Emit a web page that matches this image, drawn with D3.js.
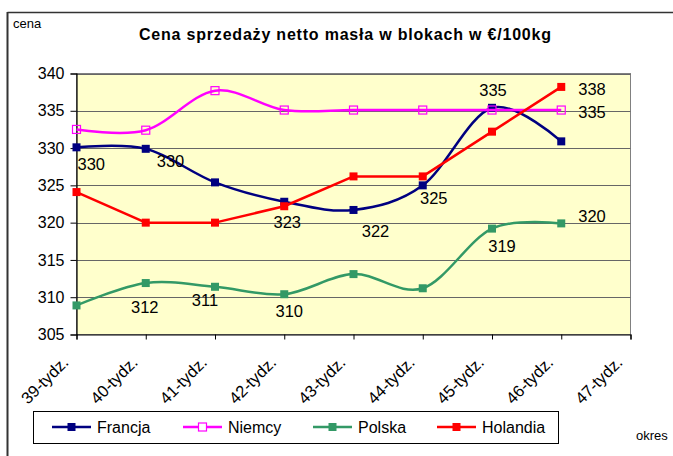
<!DOCTYPE html>
<html><head><meta charset="utf-8">
<script src="https://cdn.jsdelivr.net/npm/d3@7/dist/d3.min.js"></script>
<style>
html,body{margin:0;padding:0;background:#fff;}
svg{display:block;font-family:"Liberation Sans",Arial,sans-serif;}
</style></head>
<body>
<svg id="chart" width="673" height="456"></svg>
<script>
const categories = ["39-tydz.","40-tydz.","41-tydz.","42-tydz.","43-tydz.","44-tydz.","45-tydz.","46-tydz.","47-tydz."];
const francja  = [330.1, 329.9, 325.4, 322.8, 321.7, 325.0, 335.4, 330.9];
const niemcy   = [332.5, 332.4, 337.7, 335.1, 335.1, 335.1, 335.1, 335.1];
const polska   = [308.9, 311.9, 311.4, 310.4, 313.1, 311.2, 319.2, 319.9];
const holandia = [324.1, 320.0, 320.0, 322.2, 326.2, 326.2, 332.2, 338.2];
const seriesNames = ["Francja","Niemcy","Polska","Holandia"];
const yTicks = [305,310,315,320,325,330,335,340];
const titleText = "Cena sprzedaży netto masła w blokach w €/100kg";
const yTitle = "cena";
const xTitle = "okres";

// styling / layout (kept separate from data)
const styles = [
  {color:"#000080", smooth:true,  hollow:false},
  {color:"#FF00FF", smooth:true,  hollow:true},
  {color:"#339966", smooth:true,  hollow:false},
  {color:"#FF0000", smooth:false, hollow:false}
];
// data label placements: series index, point index, offset
const labelPlacement = [
  {s:0,i:0,dx:1,dy:23,anchor:"start"},
  {s:0,i:1,dx:11,dy:18,anchor:"start"},
  {s:0,i:3,dx:3,dy:26,anchor:"middle"},
  {s:0,i:4,dx:22,dy:27,anchor:"middle"},
  {s:0,i:5,dx:11,dy:19,anchor:"middle"},
  {s:0,i:6,dx:1,dy:-12,anchor:"middle"},
  {s:1,i:7,dx:17,dy:8,anchor:"start"},
  {s:2,i:1,dx:-1,dy:30,anchor:"middle"},
  {s:2,i:2,dx:-10,dy:19,anchor:"middle"},
  {s:2,i:3,dx:5,dy:23,anchor:"middle"},
  {s:2,i:6,dx:10,dy:23,anchor:"middle"},
  {s:2,i:7,dx:17,dy:-1,anchor:"start"},
  {s:3,i:7,dx:17,dy:8,anchor:"start"}
];

const allSeries = [francja, niemcy, polska, holandia];
const svg = d3.select("#chart");

// outer frame
svg.append("line").attr("x1",7.5).attr("y1",12.5).attr("x2",673).attr("y2",12.5).attr("stroke","#333").attr("stroke-width",1.5);
svg.append("line").attr("x1",7.5).attr("y1",12).attr("x2",7.5).attr("y2",456).attr("stroke","#333").attr("stroke-width",2);

const plot = {left:76.5, right:630.5, top:73.5, bottom:334.5};
const x = d3.scalePoint().domain(categories).range([plot.left, plot.right]);
const y = d3.scaleLinear().domain([305,340]).range([plot.bottom, plot.top]);

// background
svg.append("rect").attr("x",plot.left).attr("y",plot.top)
  .attr("width",plot.right-plot.left).attr("height",plot.bottom-plot.top)
  .attr("fill","#FFFFCC").attr("stroke","#808080").attr("stroke-width",1);

// gridlines
svg.append("g").selectAll("line").data(yTicks.filter(t=>t>305)).join("line")
  .attr("x1",plot.left).attr("x2",plot.right)
  .attr("y1",d=>Math.round(y(d))+0.5).attr("y2",d=>Math.round(y(d))+0.5)
  .attr("stroke","#666").attr("stroke-width",1);

// axes
const yAxis = d3.axisLeft(y).tickValues(yTicks).tickSize(6).tickPadding(6).tickFormat(d3.format("d"));
const gy = svg.append("g").attr("transform",`translate(${plot.left},0)`).call(yAxis);
gy.select(".domain").attr("stroke","#000").attr("stroke-width",1.2);
gy.selectAll(".tick line").attr("stroke","#000");
gy.selectAll("text").attr("font-size",16).attr("fill","#000").attr("font-family","Liberation Sans, Arial, sans-serif");

const xAxis = d3.axisBottom(x).tickSize(5).tickFormat("");
const gx = svg.append("g").attr("transform",`translate(0,${plot.bottom})`).call(xAxis);
gx.select(".domain").attr("stroke","#000").attr("stroke-width",1.2);
gx.selectAll(".tick line").attr("stroke","#000");

svg.append("g").selectAll("text").data(categories).join("text")
  .attr("transform",d=>`translate(${x(d)-7},${plot.bottom+29}) rotate(-45)`)
  .attr("text-anchor","end").attr("font-size",16.5).attr("fill","#000")
  .text(d=>d);

// lines and markers
allSeries.forEach((vals,si)=>{
  const st = styles[si];
  const pts = vals.map((v,i)=>[x(categories[i]), y(v)]);
  const line = d3.line().curve(st.smooth ? d3.curveCatmullRom.alpha(0) : d3.curveLinear);
  svg.append("path").attr("d",line(pts)).attr("fill","none")
    .attr("stroke",st.color).attr("stroke-width",2.5).attr("stroke-linejoin","round");
  svg.append("g").selectAll("rect").data(pts).join("rect")
    .attr("x",p=>p[0]-4).attr("y",p=>p[1]-4).attr("width",8).attr("height",8)
    .attr("fill",st.hollow?"none":st.color)
    .attr("stroke",st.color).attr("stroke-width",st.hollow?1.2:0);
});

// data labels
const fmt = d3.format(".0f");
svg.append("g").selectAll("text").data(labelPlacement).join("text")
  .attr("x",d=>x(categories[d.i])+d.dx)
  .attr("y",d=>y(allSeries[d.s][d.i])+d.dy)
  .attr("text-anchor",d=>d.anchor)
  .attr("font-size",16.5).attr("fill","#000")
  .text(d=>fmt(allSeries[d.s][d.i]));

// title and axis titles
svg.append("text").attr("x",139).attr("y",40).attr("font-size",16).attr("font-weight","bold")
  .attr("fill","#000").attr("textLength",412).attr("lengthAdjust","spacing").text(titleText);
svg.append("text").attr("x",13).attr("y",28).attr("font-size",13).attr("fill","#000").text(yTitle);
svg.append("text").attr("x",636).attr("y",440).attr("font-size",13).attr("fill","#000").text(xTitle);

// legend
const lg = svg.append("g");
lg.append("rect").attr("x",33.5).attr("y",411.5).attr("width",525).attr("height",32)
  .attr("fill","#fff").attr("stroke","#000").attr("stroke-width",1);
const legendX = [52, 183, 313, 437];
seriesNames.forEach((name,si)=>{
  const st = styles[si];
  const lx = legendX[si], ly = 427;
  lg.append("line").attr("x1",lx).attr("x2",lx+39).attr("y1",ly).attr("y2",ly)
    .attr("stroke",st.color).attr("stroke-width",2.5);
  lg.append("rect").attr("x",lx+15.5).attr("y",ly-4).attr("width",8).attr("height",8)
    .attr("fill",st.hollow?"#fff":st.color).attr("stroke",st.color).attr("stroke-width",st.hollow?1.2:0);
  lg.append("text").attr("x",lx+45).attr("y",ly+6).attr("font-size",16).attr("fill","#000").text(name);
});
</script>
</body></html>
